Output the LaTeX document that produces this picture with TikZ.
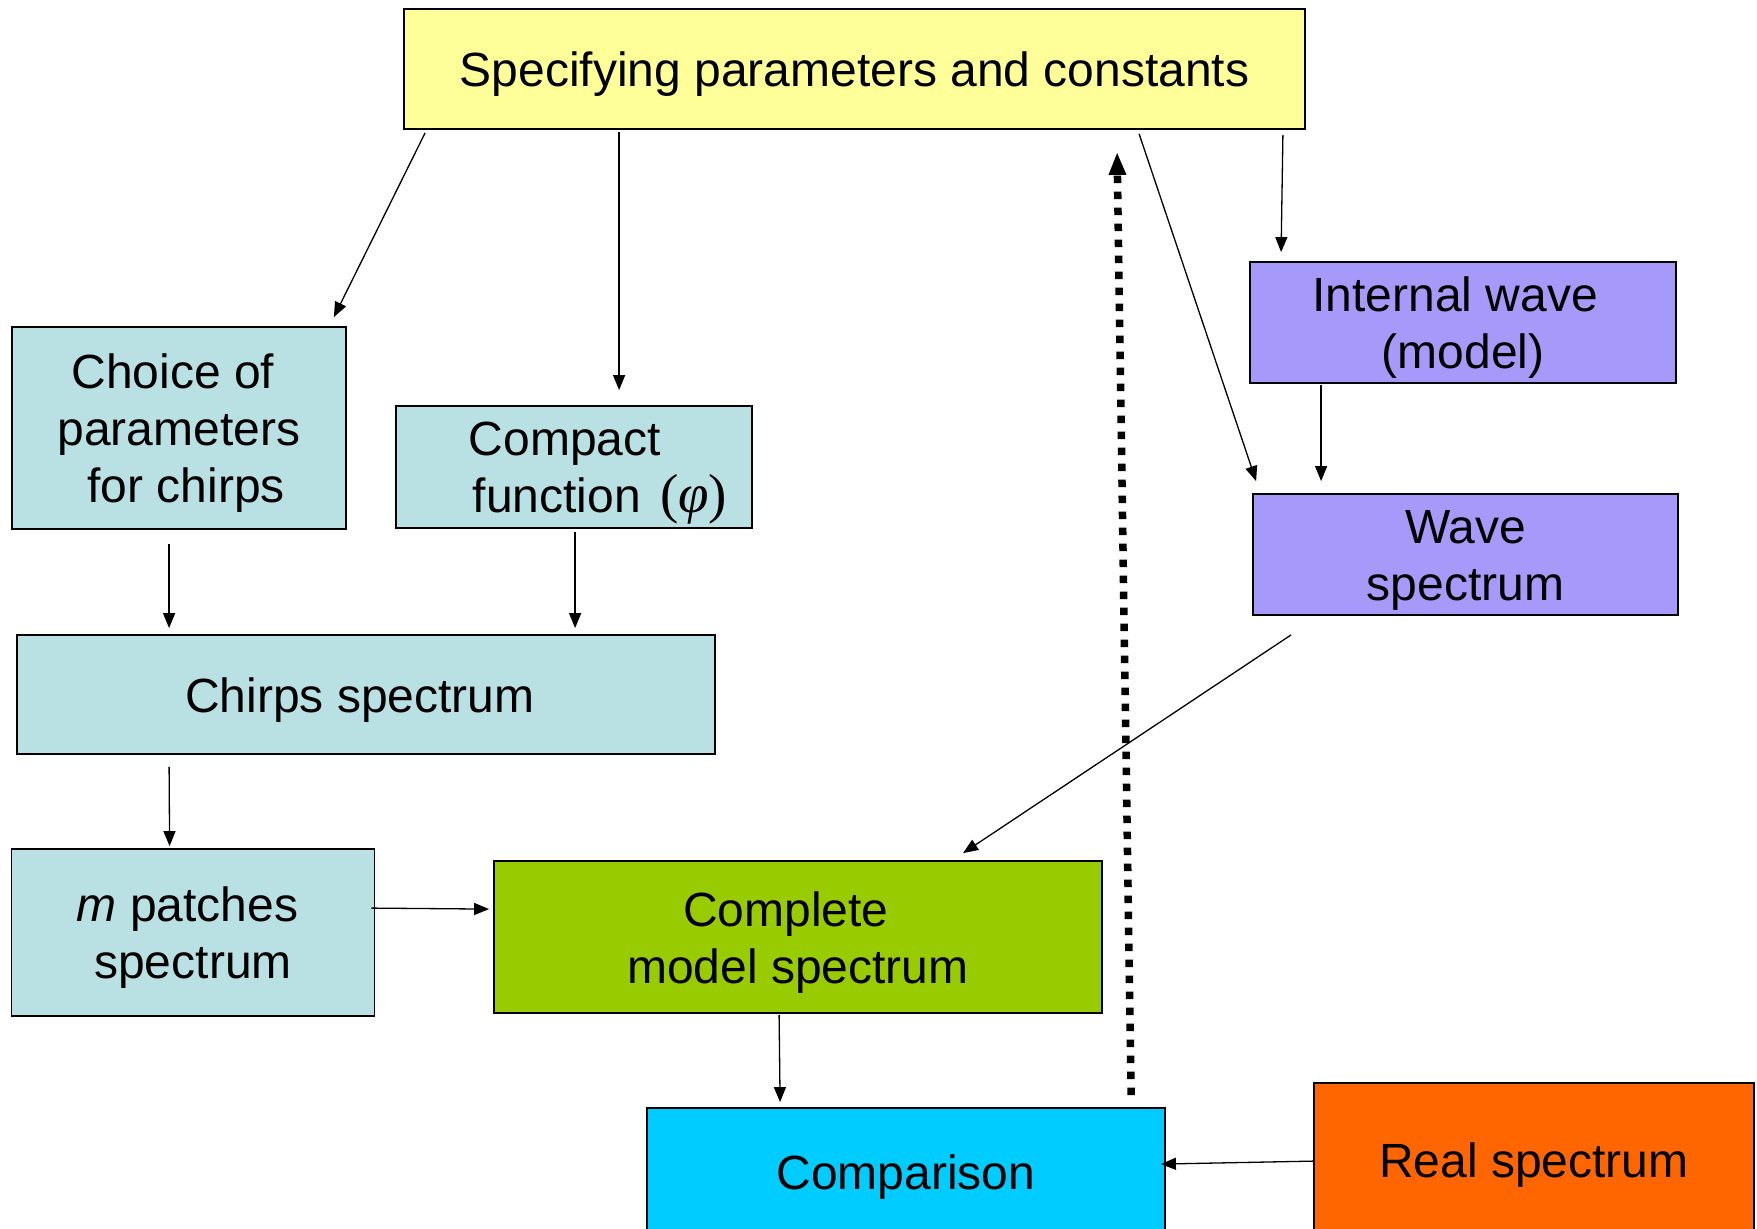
\documentclass[tikz,border=0pt]{standalone}
\usepackage{fontspec}
\setmainfont{Liberation Sans}
\newfontfamily\phifont{Liberation Serif}
\usetikzlibrary{arrows.meta,calc}
\definecolor{cyel}{HTML}{FFFF99}
\definecolor{cteal}{HTML}{B9E0E3}
\definecolor{clav}{HTML}{A699FA}
\definecolor{cgreen}{HTML}{99CC00}
\definecolor{ccyan}{HTML}{00CCFF}
\definecolor{corange}{HTML}{FF6600}
\newcommand\mytop{\rule{0pt}{23.3pt}}
\newcommand\mybot{\rule[-5.5pt]{0pt}{0pt}}
\begin{document}
\begin{tikzpicture}[x=0.5pt,y=-0.5pt,
  box/.style={draw=black, line width=0.9pt, inner sep=0pt,
    font=\fontsize{24}{28.5}\selectfont, align=center},
  arr/.style={line width=0.65pt, -{Triangle[length=7.5pt,width=6pt]}},
  back/.style={line width=3.75pt, dash pattern=on 3.75pt off 4.25pt,
    -{Triangle[length=11.5pt,width=8pt]}}]
\useasboundingbox (0,0) rectangle (1757,1229);
\node[box, fill=cyel, minimum width=450.5pt, minimum height=60pt] (top) at (854.5,69)
  {\mytop Specifying parameters and constants\mybot};
\node[box, fill=cteal, minimum width=167pt, minimum height=101pt] (choice) at (179,428)
  {\mytop Choice of\hspace*{0.26em}\\parameters\\\hspace*{0.3em}for chirps\mybot};
\node[box, fill=cteal, minimum width=178pt, minimum height=61pt, align=left] (compact) at (574,467)
  {\mytop\hspace*{24pt}Compact\\\hspace*{26pt}function\hspace*{0.4em}{\phifont\fontsize{27.5}{28.5}\selectfont(\textit{φ})}\mybot};
\node[box, fill=clav, minimum width=213pt, minimum height=60.5pt] (internal) at (1463,322.5)
  {\mytop Internal wave\hspace*{7.8pt}\\(model)\mybot};
\node[box, fill=clav, minimum width=212.5pt, minimum height=60.5pt] (wave) at (1465.5,554.5)
  {\mytop Wave\\spectrum\mybot};
\node[box, fill=cteal, minimum width=349pt, minimum height=59.5pt] (chirps) at (366,694.5)
  {\mytop Chirps spectrum\hspace*{6pt}\mybot};
\node[box, fill=cteal, minimum width=181.5pt, minimum height=83.5pt] (mpatch) at (193,932.5)
  {\mytop\textit{m} patches\hspace*{5.6pt}\\spectrum\mybot};
\node[box, fill=cgreen, minimum width=304pt, minimum height=76pt] (complete) at (798,937)
  {\mytop Complete\hspace*{0.5em}\\model spectrum\mybot};
\node[box, fill=ccyan, minimum width=259pt, minimum height=64pt] (comparison) at (906,1172)
  {\mytop Comparison\mybot};
\node[box, fill=corange, minimum width=220pt, minimum height=77pt] (real) at (1534,1160)
  {\mytop Real spectrum\mybot};
% connectors
\draw[arr] ($(top.south west)+(22,3)$) -- ($(choice.north east)+(-13,-9)$);
\draw[arr] ($(top.south west)+(216,2)$) -- ($(compact.north west)+(224,-15)$);
\draw[arr] ($(top.south west)+(736,4)$) -- ($(wave.north west)+(4,-12)$);
\draw[arr] ($(top.south east)+(-23,5)$) -- ($(internal.north west)+(32,-9)$);
\draw[arr] ($(internal.south west)+(72,1)$) -- ($(wave.north west)+(69,-12)$);
\draw[arr] ($(choice.south west)+(158,14)$) -- ($(chirps.north west)+(153,-6)$);
\draw[arr] ($(compact.south west)+(180,3)$) -- ($(chirps.north west)+(559,-6)$);
\draw[arr] ($(chirps.south west)+(153,12)$) -- ($(mpatch.north west)+(159,-2)$);
\draw[arr] ($(mpatch.north east)+(-4,60)$) -- ($(complete.north west)+(-4,49)$);
\draw[arr] ($(wave.south west)+(39,19)$) -- ($(complete.north west)+(470,-7)$);
\draw[arr] ($(complete.south west)+(286,1)$) -- ($(comparison.north west)+(134,-5)$);
\draw[arr] ($(real.north west)+(1,79)$) -- ($(comparison.north east)+(-5,57)$);
\draw[back] ($(comparison.north west)+(485,-12)$) -- ($(top.south west)+(714,22)$);
\end{tikzpicture}
\end{document}
